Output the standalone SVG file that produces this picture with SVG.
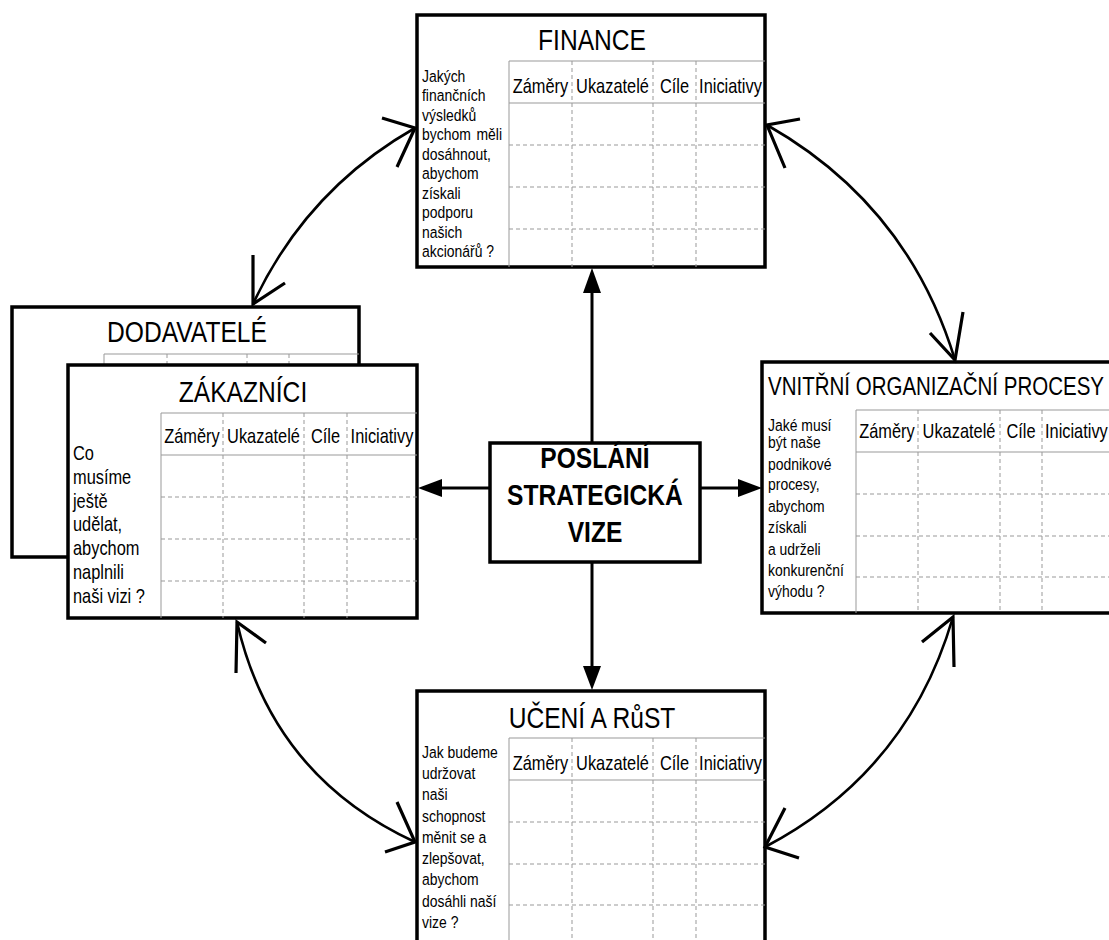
<svg xmlns="http://www.w3.org/2000/svg" width="1109" height="940" viewBox="0 0 1109 940">
<style>
text{font-family:"Liberation Sans",Arial,sans-serif;fill:#000}
.box{fill:#fff;stroke:#000;stroke-width:3.5}
.ttl{font-size:30px;text-anchor:middle}
.hd{font-size:20px;text-anchor:middle}
.hds{font-size:20px;text-anchor:start}
.q{font-size:17px}
.q20{font-size:20px}
.solid{stroke:#999;stroke-width:1;fill:none}
.dash{stroke:#999;stroke-width:1;stroke-dasharray:4 3;fill:none}
.ctr{font-size:30px;font-weight:bold;text-anchor:middle}
.arc{fill:none;stroke:#000;stroke-width:2.6}
.ah{fill:none;stroke:#000;stroke-width:3.2;stroke-linecap:butt}
.shaft{stroke:#000;stroke-width:3}
</style>

<g id="dodavatele">
<rect class="box" x="12" y="307" width="347" height="250"/>
<line class="solid" x1="104" y1="354" x2="359" y2="354"/>
<line class="solid" x1="104" y1="354" x2="104" y2="366"/>
<line class="dash" x1="167" y1="354" x2="167" y2="366"/>
<line class="dash" x1="247" y1="354" x2="247" y2="366"/>
<line class="dash" x1="289" y1="354" x2="289" y2="366"/>
<g transform="scale(0.82 1)">
<text class="ttl" x="228.05" y="342">DODAVATELÉ</text>
</g>
</g>

<g id="zakaznici">
<rect class="box" x="68" y="365" width="349" height="253"/>
<line class="solid" x1="161" y1="413" x2="417" y2="413"/>
<line class="solid" x1="161" y1="455" x2="417" y2="455"/>
<line class="solid" x1="161" y1="413" x2="161" y2="618"/>
<line class="dash" x1="223" y1="413" x2="223" y2="618"/>
<line class="dash" x1="304" y1="413" x2="304" y2="618"/>
<line class="dash" x1="347" y1="413" x2="347" y2="618"/>
<line class="dash" x1="161" y1="497" x2="417" y2="497"/>
<line class="dash" x1="161" y1="539" x2="417" y2="539"/>
<line class="dash" x1="161" y1="581" x2="417" y2="581"/>
<g transform="scale(0.82 1)">
<text class="ttl" x="296.34" y="402">ZÁKAZNÍCI</text>
<text class="hd" x="234.15" y="443">Záměry</text>
<text class="hd" x="321.34" y="443">Ukazatelé</text>
<text class="hd" x="396.95" y="443">Cíle</text>
<text class="hd" x="465.85" y="443">Iniciativy</text>
<text class="q20" x="89.02" y="460">Co</text>
<text class="q20" x="89.02" y="484">musíme</text>
<text class="q20" x="89.02" y="508">ještě</text>
<text class="q20" x="89.02" y="531">udělat,</text>
<text class="q20" x="89.02" y="555">abychom</text>
<text class="q20" x="89.02" y="579">naplnili</text>
<text class="q20" x="89.02" y="603">naši vizi ?</text>
</g>
</g>

<g id="finance">
<rect class="box" x="417" y="15" width="348" height="252"/>
<line class="solid" x1="509" y1="61" x2="765" y2="61"/>
<line class="solid" x1="509" y1="103" x2="765" y2="103"/>
<line class="solid" x1="509" y1="61" x2="509" y2="267"/>
<line class="dash" x1="572" y1="61" x2="572" y2="267"/>
<line class="dash" x1="653" y1="61" x2="653" y2="267"/>
<line class="dash" x1="696" y1="61" x2="696" y2="267"/>
<line class="dash" x1="509" y1="145" x2="765" y2="145"/>
<line class="dash" x1="509" y1="187" x2="765" y2="187"/>
<line class="dash" x1="509" y1="229" x2="765" y2="229"/>
<g transform="scale(0.82 1)">
<text class="ttl" x="721.95" y="50">FINANCE</text>
<text class="hd" x="659.15" y="93">Záměry</text>
<text class="hd" x="746.95" y="93">Ukazatelé</text>
<text class="hd" x="822.56" y="93">Cíle</text>
<text class="hd" x="890.85" y="93">Iniciativy</text>
<text class="q" x="514.63" y="82">Jakých</text>
<text class="q" x="514.63" y="101.5">finančních</text>
<text class="q" x="514.63" y="121">výsledků</text>
<text class="q" x="514.63" y="140.5">bychom</text>
<text class="q" x="612.2" y="140.5" style="text-anchor:end">měli</text>
<text class="q" x="514.63" y="160">dosáhnout,</text>
<text class="q" x="514.63" y="179.5">abychom</text>
<text class="q" x="514.63" y="199">získali</text>
<text class="q" x="514.63" y="218.5">podporu</text>
<text class="q" x="514.63" y="238">našich</text>
<text class="q" x="514.63" y="257.5">akcionářů ?</text>
</g>
</g>

<g id="vnitrni">
<rect class="box" x="762" y="362" width="360" height="251"/>
<line class="solid" x1="856" y1="410" x2="1115" y2="410"/>
<line class="solid" x1="856" y1="452" x2="1115" y2="452"/>
<line class="solid" x1="856" y1="410" x2="856" y2="613"/>
<line class="dash" x1="918" y1="410" x2="918" y2="613"/>
<line class="dash" x1="1000" y1="410" x2="1000" y2="613"/>
<line class="dash" x1="1042" y1="410" x2="1042" y2="613"/>
<line class="dash" x1="856" y1="494" x2="1115" y2="494"/>
<line class="dash" x1="856" y1="536" x2="1115" y2="536"/>
<line class="dash" x1="856" y1="577" x2="1115" y2="577"/>
<g transform="scale(0.82 1)">
<text style="font-size:25px" x="936.59" y="395">VNITŘNÍ ORGANIZAČNÍ PROCESY</text>
<text class="hd" x="1081.71" y="438">Záměry</text>
<text class="hd" x="1169.51" y="438">Ukazatelé</text>
<text class="hd" x="1245.12" y="438">Cíle</text>
<text class="hds" x="1274.39" y="438">Iniciativy</text>
<text class="q" x="936.59" y="431">Jaké musí</text>
<text class="q" x="936.59" y="448">být naše</text>
<text class="q" x="936.59" y="470">podnikové</text>
<text class="q" x="936.59" y="490">procesy,</text>
<text class="q" x="936.59" y="512">abychom</text>
<text class="q" x="936.59" y="533">získali</text>
<text class="q" x="936.59" y="555">a udrželi</text>
<text class="q" x="936.59" y="576">konkurenční</text>
<text class="q" x="936.59" y="597">výhodu ?</text>
</g>
</g>

<g id="uceni">
<rect class="box" x="417" y="691" width="348" height="260"/>
<line class="solid" x1="509" y1="738" x2="765" y2="738"/>
<line class="solid" x1="509" y1="780" x2="765" y2="780"/>
<line class="solid" x1="509" y1="738" x2="509" y2="945"/>
<line class="dash" x1="572" y1="738" x2="572" y2="945"/>
<line class="dash" x1="653" y1="738" x2="653" y2="945"/>
<line class="dash" x1="696" y1="738" x2="696" y2="945"/>
<line class="dash" x1="509" y1="822" x2="765" y2="822"/>
<line class="dash" x1="509" y1="864" x2="765" y2="864"/>
<line class="dash" x1="509" y1="905" x2="765" y2="905"/>
<g transform="scale(0.82 1)">
<text class="ttl" x="721.95" y="728">UČENÍ A RůST</text>
<text class="hd" x="659.15" y="770">Záměry</text>
<text class="hd" x="746.95" y="770">Ukazatelé</text>
<text class="hd" x="822.56" y="770">Cíle</text>
<text class="hd" x="890.85" y="770">Iniciativy</text>
<text class="q" x="514.63" y="758">Jak budeme</text>
<text class="q" x="514.63" y="779">udržovat</text>
<text class="q" x="514.63" y="800.5">naši</text>
<text class="q" x="514.63" y="822">schopnost</text>
<text class="q" x="514.63" y="843">měnit se a</text>
<text class="q" x="514.63" y="864">zlepšovat,</text>
<text class="q" x="514.63" y="885.5">abychom</text>
<text class="q" x="514.63" y="907">dosáhli naší</text>
<text class="q" x="514.63" y="928">vize ?</text>
</g>
</g>

<g id="center">
<rect class="box" x="490" y="443" width="210" height="119"/>
<g transform="scale(0.82 1)">
<text class="ctr" x="725.61" y="468">POSLÁNÍ</text>
<text class="ctr" x="725.61" y="505">STRATEGICKÁ</text>
<text class="ctr" x="725.61" y="542">VIZE</text>
</g>
</g>

<g id="connectors">
<line class="shaft" x1="592" y1="443" x2="592" y2="290"/>
<polygon points="592,268 583,293 601,293"/>
<line class="shaft" x1="592" y1="562" x2="592" y2="668"/>
<polygon points="592,690 583,666 601,666"/>
<line class="shaft" x1="490" y1="488" x2="440" y2="488"/>
<polygon points="418,488 442,479 442,497"/>
<line class="shaft" x1="700" y1="488" x2="740" y2="488"/>
<polygon points="762,488 738,479 738,497"/>

<path class="arc" d="M415,128 Q306,190 253,304"/>
<polyline class="ah" points="382,118 415,128 397,167"/>
<polyline class="ah" points="253,255 253,304 285,283"/>

<path class="arc" d="M767,125 Q908,205 955,360"/>
<polyline class="ah" points="800,119 767,125 785,168"/>
<polyline class="ah" points="930,333 955,360 963,312"/>

<path class="arc" d="M237,622 Q272,776 415,842"/>
<polyline class="ah" points="236,673 237,622 266,643"/>
<polyline class="ah" points="397,802 415,842 385,852"/>

<path class="arc" d="M953,617 Q908,772 765,847"/>
<polyline class="ah" points="922,642 953,617 954,667"/>
<polyline class="ah" points="785,808 765,847 799,858"/>
</g>
</svg>
